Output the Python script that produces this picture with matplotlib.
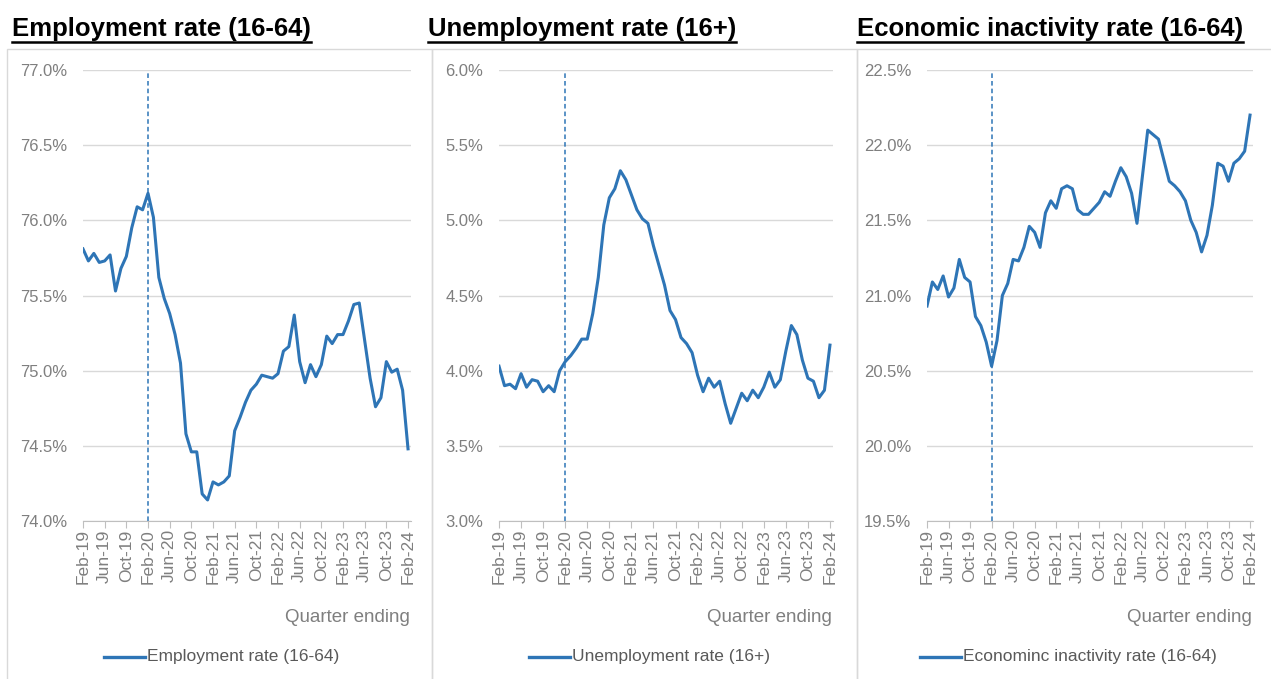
import numpy as np
import matplotlib
matplotlib.use("Agg")
import matplotlib.pyplot as plt
from matplotlib.lines import Line2D
from matplotlib.patches import Rectangle

plt.rcParams['font.family'] = ['Liberation Sans', 'DejaVu Sans']

# monthly values, quarter ending Feb-19 ... Feb-24
employment = [75.81, 75.73, 75.78, 75.72, 75.73, 75.77, 75.53, 75.68, 75.76, 75.95,
              76.09, 76.07, 76.18, 76.02, 75.62, 75.48, 75.38, 75.24, 75.05, 74.58,
              74.46, 74.46, 74.18, 74.14, 74.26, 74.24, 74.26, 74.30, 74.60, 74.69,
              74.79, 74.87, 74.91, 74.97, 74.96, 74.95, 74.98, 75.13, 75.16, 75.37,
              75.06, 74.92, 75.04, 74.96, 75.04, 75.23, 75.18, 75.24, 75.24, 75.33,
              75.44, 75.45, 75.20, 74.95, 74.76, 74.82, 75.06, 74.99, 75.01, 74.87,
              74.48]
unemployment = [4.03, 3.90, 3.91, 3.88, 3.98, 3.89, 3.94, 3.93, 3.86, 3.90,
                3.86, 4.00, 4.06, 4.10, 4.15, 4.21, 4.21, 4.38, 4.62, 4.97,
                5.15, 5.21, 5.33, 5.27, 5.17, 5.07, 5.01, 4.98, 4.83, 4.70,
                4.57, 4.40, 4.34, 4.22, 4.18, 4.12, 3.97, 3.86, 3.95, 3.89,
                3.93, 3.78, 3.65, 3.75, 3.85, 3.80, 3.87, 3.82, 3.89, 3.99,
                3.89, 3.94, 4.13, 4.30, 4.24, 4.07, 3.95, 3.93, 3.82, 3.87,
                4.17]
inactivity = [20.93, 21.09, 21.04, 21.13, 20.99, 21.05, 21.24, 21.12, 21.09, 20.86,
              20.80, 20.69, 20.53, 20.70, 21.00, 21.08, 21.24, 21.23, 21.32, 21.46,
              21.42, 21.32, 21.55, 21.63, 21.58, 21.71, 21.73, 21.71, 21.57, 21.54,
              21.54, 21.58, 21.62, 21.69, 21.66, 21.76, 21.85, 21.79, 21.68, 21.48,
              21.79, 22.10, 22.07, 22.04, 21.90, 21.76, 21.73, 21.69, 21.63, 21.50,
              21.42, 21.29, 21.40, 21.60, 21.88, 21.86, 21.76, 21.88, 21.91, 21.96,
              22.20]

tick_labels = ['Feb-19', 'Jun-19', 'Oct-19', 'Feb-20', 'Jun-20', 'Oct-20', 'Feb-21', 'Jun-21',
               'Oct-21', 'Feb-22', 'Jun-22', 'Oct-22', 'Feb-23', 'Jun-23', 'Oct-23', 'Feb-24']
covid_month = 12  # Feb-20

titles = ['Employment rate (16-64)', 'Unemployment rate (16+)', 'Economic inactivity rate (16-64)']
legends = ['Employment rate (16-64)', 'Unemployment rate (16+)', 'Econominc inactivity rate (16-64)']
series = [employment, unemployment, inactivity]
ylims = [(74.0, 77.0), (3.0, 6.0), (19.5, 22.5)]

W, H = 1271, 679
blue = '#2E75B6'
grey_txt = '#7f7f7f'

fig = plt.figure(figsize=(W / 100, H / 100), dpi=100)

# pixel layout of each panel
lefts = [83, 499, 927]
rights = [411, 833, 1253]
box_x = [7, 432, 857, 1275]
title_x = [12, 428, 857]
leg_x = [104, 529, 920]
top_px, bot_px = 70, 521

for k in range(3):
    fig.add_artist(Rectangle((box_x[k] / W, -0.01), (box_x[k + 1] - box_x[k]) / W, 1 - 49 / H + 0.01,
                             transform=fig.transFigure, fill=False, edgecolor='#d9d9d9', lw=1))

    ax = fig.add_axes([lefts[k] / W, 1 - bot_px / H, (rights[k] - lefts[k]) / W, (bot_px - top_px) / H])
    x = np.arange(len(series[k]))
    ax.plot(x, series[k], color=blue, lw=2.2, solid_joinstyle='round', zorder=3)
    ax.axvline(covid_month, color=blue, lw=1.1, ls=(0, (3, 2)), ymax=0.995, zorder=2)

    ax.set_xlim(0, 60.55)
    ax.set_ylim(*ylims[k])
    yt = np.arange(ylims[k][0], ylims[k][1] + 0.01, 0.5)
    ax.set_yticks(yt)
    ax.set_yticklabels([f'{v:.1f}%' for v in yt])
    ax.set_xticks(np.arange(0, 61, 4))
    ax.set_xticklabels(tick_labels, rotation=90)
    ax.grid(axis='y', color='#d9d9d9', lw=1)
    ax.set_axisbelow(True)
    for s in ['top', 'right', 'left']:
        ax.spines[s].set_visible(False)
    ax.spines['bottom'].set_color('#bfbfbf')
    ax.tick_params(axis='y', length=0, pad=11.5, labelsize=12, labelcolor=grey_txt)
    ax.tick_params(axis='x', length=5, color='#bfbfbf', pad=1, labelsize=12.5, labelcolor=grey_txt)

    fig.text((rights[k] - 1) / W, 1 - 617 / H, 'Quarter ending', ha='right', va='center',
             fontsize=13.5, color=grey_txt)

    # legend
    fig.add_artist(Line2D([leg_x[k] / W, (leg_x[k] + 41) / W], [1 - 657 / H] * 2,
                          transform=fig.transFigure, color=blue, lw=2.4))
    fig.text((leg_x[k] + 43) / W, 1 - 657 / H, legends[k], ha='left', va='center',
             fontsize=12.5, color='#595959')

    # underlined title
    t = fig.text(title_x[k] / W, 1 - 29 / H, titles[k], ha='left', va='center',
                 fontsize=18.5, fontweight='bold', color='black')

fig.canvas.draw()
renderer = fig.canvas.get_renderer()
for t in fig.texts:
    if t.get_fontweight() == 'bold':
        bb = t.get_window_extent(renderer)
        y = (bb.y0 - 1) / H
        fig.add_artist(Line2D([bb.x0 / W, bb.x1 / W], [y, y], transform=fig.transFigure,
                              color='black', lw=1.8))

fig.savefig('out.png', dpi=100)
